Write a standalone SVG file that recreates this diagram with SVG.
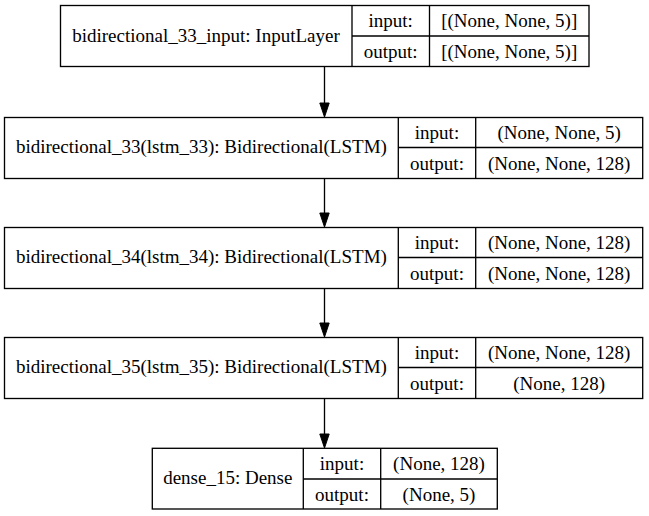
<svg xmlns="http://www.w3.org/2000/svg" width="649" height="516" viewBox="0 0 649 516">
<defs>
<style>
.box{fill:#fff;stroke:#000;stroke-width:1.33}
.ln{stroke:#000;stroke-width:1.33;fill:none}
text{font-family:"Liberation Serif","Times New Roman",serif;font-size:19px;fill:#000;text-anchor:middle}
.edge{stroke:#000;stroke-width:1.33;fill:none}
.head{fill:#000;stroke:#000;stroke-width:1}
</style>
</defs>
<rect width="649" height="516" fill="#fff"/>
<g id="connectors">
<line class="edge" x1="324.5" y1="67" x2="324.5" y2="103"/>
<polygon class="head" points="319.8,103 329.2,103 324.5,117"/>
<line class="edge" x1="324.5" y1="178.5" x2="324.5" y2="213"/>
<polygon class="head" points="319.8,213 329.2,213 324.5,227"/>
<line class="edge" x1="324.5" y1="288.5" x2="324.5" y2="323"/>
<polygon class="head" points="319.8,323 329.2,323 324.5,337"/>
<line class="edge" x1="324.5" y1="398.5" x2="324.5" y2="434"/>
<polygon class="head" points="319.8,434 329.2,434 324.5,448"/>
</g>
<g id="node1">
<rect class="box" x="60.5" y="5.5" width="528.5" height="61"/>
<line class="ln" x1="352" y1="5.5" x2="352" y2="66.5"/>
<line class="ln" x1="429.5" y1="5.5" x2="429.5" y2="66.5"/>
<line class="ln" x1="352" y1="36" x2="589" y2="36"/>
<text x="206" y="41.5">bidirectional_33_input: InputLayer</text>
<text x="390.7" y="27">input:</text>
<text x="390.7" y="58">output:</text>
<text x="509.2" y="27">[(None, None, 5)]</text>
<text x="509.2" y="58">[(None, None, 5)]</text>
</g>
<g id="node2">
<rect class="box" x="4.5" y="117.5" width="638.2" height="61"/>
<line class="ln" x1="398.3" y1="117.5" x2="398.3" y2="178.5"/>
<line class="ln" x1="475.7" y1="117.5" x2="475.7" y2="178.5"/>
<line class="ln" x1="398.3" y1="147.5" x2="642.7" y2="147.5"/>
<text x="201.4" y="153">bidirectional_33(lstm_33): Bidirectional(LSTM)</text>
<text x="437" y="138.5">input:</text>
<text x="437" y="169.5">output:</text>
<text x="559.2" y="138.5">(None, None, 5)</text>
<text x="559.2" y="169.5">(None, None, 128)</text>
</g>
<g id="node3">
<rect class="box" x="4.5" y="227.5" width="638.2" height="61"/>
<line class="ln" x1="398.3" y1="227.5" x2="398.3" y2="288.5"/>
<line class="ln" x1="475.7" y1="227.5" x2="475.7" y2="288.5"/>
<line class="ln" x1="398.3" y1="257.5" x2="642.7" y2="257.5"/>
<text x="201.4" y="263">bidirectional_34(lstm_34): Bidirectional(LSTM)</text>
<text x="437" y="248.5">input:</text>
<text x="437" y="279.5">output:</text>
<text x="559.2" y="248.5">(None, None, 128)</text>
<text x="559.2" y="279.5">(None, None, 128)</text>
</g>
<g id="node4">
<rect class="box" x="4.5" y="337.5" width="638.2" height="61"/>
<line class="ln" x1="398.3" y1="337.5" x2="398.3" y2="398.5"/>
<line class="ln" x1="475.7" y1="337.5" x2="475.7" y2="398.5"/>
<line class="ln" x1="398.3" y1="367.5" x2="642.7" y2="367.5"/>
<text x="201.4" y="373">bidirectional_35(lstm_35): Bidirectional(LSTM)</text>
<text x="437" y="358.5">input:</text>
<text x="437" y="389.5">output:</text>
<text x="559.2" y="358.5">(None, None, 128)</text>
<text x="559.2" y="389.5">(None, 128)</text>
</g>
<g id="node5">
<rect class="box" x="152.3" y="448.3" width="345" height="60.7"/>
<line class="ln" x1="303.3" y1="448.3" x2="303.3" y2="509"/>
<line class="ln" x1="380.7" y1="448.3" x2="380.7" y2="509"/>
<line class="ln" x1="303.3" y1="479" x2="497.3" y2="479"/>
<text x="227.8" y="484">dense_15: Dense</text>
<text x="342" y="469.5">input:</text>
<text x="342" y="500.5">output:</text>
<text x="439" y="469.5">(None, 128)</text>
<text x="439" y="500.5">(None, 5)</text>
</g>
</svg>
